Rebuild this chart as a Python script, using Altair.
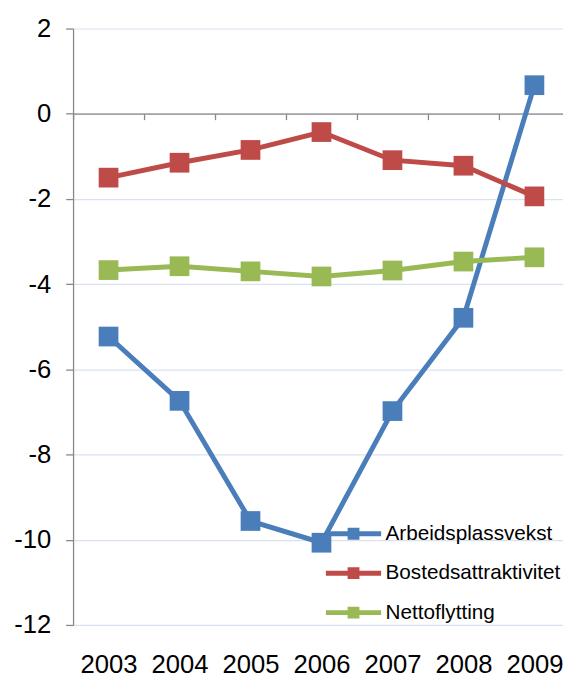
import altair as alt
import pandas as pd

years = [2003, 2004, 2005, 2006, 2007, 2008, 2009]
series_names = ["Arbeidsplassvekst", "Bostedsattraktivitet", "Nettoflytting"]
arbeidsplassvekst = [-5.23, -6.74, -9.56, -10.07, -6.98, -4.79, 0.67]
bostedsattraktivitet = [-1.50, -1.15, -0.85, -0.43, -1.09, -1.22, -1.94]
nettoflytting = [-3.67, -3.58, -3.70, -3.82, -3.68, -3.47, -3.37]
colors = ["#4a7ebb", "#be4b48", "#98b954"]
y_ticks = [2, 0, -2, -4, -6, -8, -10, -12]
boundaries = [2002.5, 2003.5, 2004.5, 2005.5, 2006.5, 2007.5, 2008.5]

rows = []
for name, vals in zip(series_names, [arbeidsplassvekst, bostedsattraktivitet, nettoflytting]):
    for yr, v in zip(years, vals):
        rows.append({"year": yr, "value": v, "series": name})
df = pd.DataFrame(rows)

FONT = "Liberation Sans"
W, H = 497, 605
ymin, ymax = -12, 2
zero_offset = -H * (0 - ymin) / (ymax - ymin)
x_max = 2002.5 + W / 72.0

x_scale = alt.Scale(domain=[2002.5, x_max], nice=False, zero=False)
y_scale = alt.Scale(domain=[ymin, ymax], nice=False, zero=False)

y_axis = alt.Axis(values=y_ticks, title=None, grid=True, gridColor="#d9e3f0", gridWidth=1.2,
                  domainColor="#888888", domainWidth=1.3, tickColor="#888888", tickWidth=1.3,
                  tickSize=7.5, labelFontSize=26, labelFont=FONT, labelColor="#000000",
                  labelPadding=15, labelExpr="datum.value + ''")

legend = alt.Legend(title=None, orient="none", legendX=274, legendY=502, padding=0,
                    symbolType="M-2.8,-0.25H2.8V0.25H-2.8Z M-0.6,-0.6H0.6V0.6H-0.6Z",
                    symbolSize=400, symbolStrokeWidth=0, labelFontSize=21, labelFont=FONT,
                    labelColor="#000000", labelOffset=22, rowPadding=18, labelLimit=400)

color = alt.Color("series:N", scale=alt.Scale(domain=series_names, range=colors), legend=legend,
                  sort=series_names)

lines = alt.Chart(df).mark_line(strokeWidth=5).encode(
    x=alt.X("year:Q", scale=x_scale,
            axis=alt.Axis(values=boundaries, title=None, labels=False, grid=False, orient="bottom",
                          domainColor="#888888", domainWidth=1.3, tickColor="#888888",
                          tickWidth=1.3, tickSize=6, offset=zero_offset)),
    y=alt.Y("value:Q", scale=y_scale, axis=y_axis),
    color=color,
)

points = alt.Chart(df).mark_point(shape="square", filled=True, size=400, opacity=1).encode(
    x=alt.X("year:Q", scale=x_scale,
            axis=alt.Axis(values=years, title=None, format="d", grid=False, domain=False,
                          orient="bottom", ticks=False, tickSize=0, labelFontSize=26,
                          labelFont=FONT, labelColor="#000000", labelPadding=27)),
    y=alt.Y("value:Q", scale=y_scale, axis=y_axis),
    color=color,
)

chart = alt.layer(lines, points).resolve_axis(x="independent").properties(
    width=W, height=H,
    autosize=alt.AutoSizeParams(type="none"),
    padding={"left": 66, "top": 16, "right": 0, "bottom": 50},
).configure_view(stroke=None)

chart.save("out.html", embed_options={"renderer": "svg", "actions": False})
